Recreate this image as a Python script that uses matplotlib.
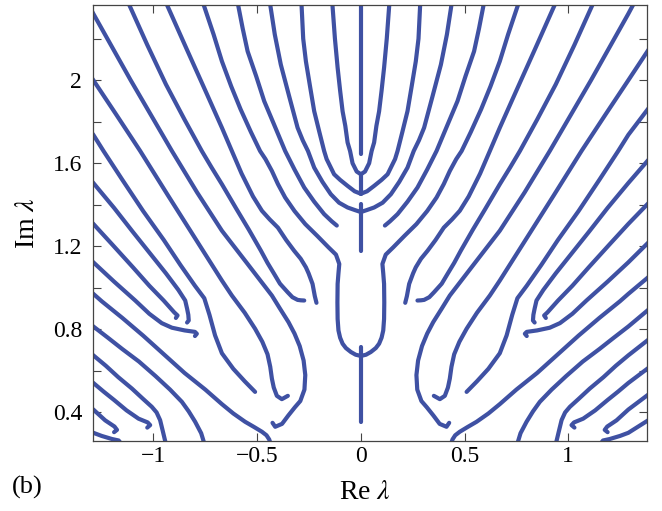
import matplotlib
matplotlib.use("Agg")
import matplotlib.pyplot as plt
from matplotlib.ticker import FixedLocator, FixedFormatter

# -------------------------------
# spectrum branches, Re λ >= 0 half (the other half is the mirror image)
# -------------------------------
# pieces lying on the imaginary axis
axis_lo = [0.355, 1.179, 1.451, 1.643]
axis_hi = [0.715, 1.405, 1.547, 2.40]

u1_x = [0.0, 0.02, 0.04, 0.052, 0.064, 0.075, 0.088, 0.10, 0.112, 0.125, 0.137, 0.140]
u1_y = [1.547, 1.56, 1.60, 1.659, 1.70, 1.78, 1.85, 1.95, 2.06, 2.20, 2.363, 2.40]

u2_x = [0.0, 0.03, 0.064, 0.10, 0.129, 0.165, 0.177, 0.20, 0.225, 0.245, 0.265, 0.278, 0.286, 0.29]
u2_y = [1.453, 1.465, 1.491, 1.52, 1.547, 1.62, 1.659, 1.75, 1.851, 1.97, 2.091, 2.20, 2.363, 2.40]

u3_x = [0.0, 0.03, 0.064, 0.105, 0.145, 0.185, 0.225, 0.255, 0.28, 0.305, 0.345, 0.386, 0.415, 0.437, 0.445]
u3_y = [1.365, 1.375, 1.387, 1.41, 1.451, 1.51, 1.579, 1.659, 1.71, 1.771, 1.92, 2.075, 2.22, 2.363, 2.40]

e1_x = [0.116, 0.14, 0.177, 0.225, 0.273, 0.32, 0.365, 0.42, 0.466, 0.505, 0.546, 0.57, 0.592, 0.60]
e1_y = [1.30, 1.32, 1.355, 1.415, 1.483, 1.57, 1.659, 1.79, 1.899, 2.02, 2.139, 2.25, 2.363, 2.40]

big_x = [0.0, 0.025, 0.048, 0.072, 0.088, 0.100, 0.108, 0.112, 0.113, 0.112, 0.108, 0.104, 0.12,
         0.156, 0.21, 0.268, 0.32, 0.365, 0.40, 0.429, 0.46, 0.486, 0.53, 0.58, 0.625, 0.670,
         0.71, 0.758, 0.77]
big_y = [0.672, 0.678, 0.691, 0.71, 0.731, 0.76, 0.795, 0.85, 0.93, 1.019, 1.07, 1.115, 1.16,
         1.195, 1.25, 1.307, 1.37, 1.435, 1.50, 1.563, 1.62, 1.659, 1.75, 1.86, 1.97, 2.091,
         2.22, 2.363, 2.40]

e2_x = [0.214, 0.222, 0.233, 0.252, 0.265, 0.29, 0.322, 0.36, 0.40, 0.44, 0.477, 0.52, 0.575,
        0.622, 0.670, 0.75, 0.84, 0.935, 0.95]
e2_y = [0.928, 0.96, 1.019, 1.07, 1.099, 1.14, 1.179, 1.23, 1.29, 1.33, 1.371, 1.44, 1.55,
        1.659, 1.771, 1.95, 2.15, 2.363, 2.40]

e3_x = [0.273, 0.29, 0.305, 0.33, 0.353, 0.39, 0.418, 0.45, 0.482, 0.54, 0.60, 0.670, 0.72,
        0.767, 0.85, 0.94, 1.03, 1.117, 1.13]
e3_y = [0.939, 0.94, 0.942, 0.955, 0.979, 1.02, 1.067, 1.12, 1.179, 1.28, 1.38, 1.499, 1.58,
        1.659, 1.81, 1.98, 2.17, 2.363, 2.40]

e5_x = [0.426, 0.413, 0.380, 0.350, 0.318, 0.292, 0.272, 0.268, 0.276, 0.295, 0.32, 0.349,
        0.39, 0.429, 0.55, 0.670, 0.79, 0.911, 1.11, 1.29, 1.313, 1.33]
e5_y = [0.350, 0.331, 0.345, 0.385, 0.425, 0.455, 0.51, 0.58, 0.65, 0.72, 0.78, 0.835,
        0.90, 0.963, 1.12, 1.275, 1.46, 1.659, 2.0, 2.32, 2.363, 2.40]

e4_x = [0.352, 0.381, 0.405, 0.42, 0.429, 0.437, 0.45, 0.475, 0.510, 0.56, 0.622, 0.670,
        0.80, 0.93, 1.064, 1.18, 1.29, 1.382, 1.43]
e4_y = [0.48, 0.464, 0.48, 0.52, 0.563, 0.62, 0.68, 0.74, 0.803, 0.88, 0.963, 1.035,
        1.24, 1.445, 1.659, 1.835, 2.0, 2.139, 2.21]

e6_x = [0.510, 0.56, 0.615, 0.670, 0.703, 0.73, 0.755, 0.80, 0.87, 0.95, 1.05, 1.15,
        1.241, 1.29, 1.382, 1.43]
e6_y = [0.499, 0.55, 0.61, 0.685, 0.771, 0.87, 0.95, 1.01, 1.11, 1.23, 1.37, 1.52,
        1.659, 1.737, 1.858, 1.92]

e7_x = [0.838, 0.830, 0.832, 0.838, 0.847, 0.88, 0.94, 1.02, 1.10, 1.19, 1.29, 1.382, 1.43]
e7_y = [0.833, 0.843, 0.87, 0.90, 0.939, 0.99, 1.07, 1.17, 1.27, 1.385, 1.505, 1.611, 1.665]

e8_x = [0.892, 0.884, 0.90, 0.951, 1.02, 1.10, 1.20, 1.29, 1.382, 1.43]
e8_y = [0.855, 0.867, 0.882, 0.939, 1.01, 1.10, 1.21, 1.308, 1.403, 1.45]

e9_x = [0.800, 0.791, 0.80, 0.85, 0.911, 0.96, 1.02, 1.088, 1.19, 1.29, 1.382, 1.43]
e9_y = [0.768, 0.779, 0.788, 0.795, 0.808, 0.83, 0.875, 0.939, 1.03, 1.123, 1.214, 1.26]

b1_x = [0.437, 0.442, 0.455, 0.477, 0.515, 0.558, 0.615, 0.670, 0.75, 0.85, 0.95, 1.05,
        1.15, 1.249, 1.29, 1.382, 1.43]
b1_y = [0.255, 0.27, 0.29, 0.307, 0.33, 0.355, 0.395, 0.44, 0.51, 0.59, 0.68, 0.77,
        0.855, 0.935, 0.971, 1.048, 1.09]

b2_x = [0.755, 0.759, 0.77, 0.799, 0.83, 0.863, 0.92, 0.99, 1.07, 1.15, 1.22, 1.29, 1.382, 1.43]
b2_y = [0.25, 0.264, 0.30, 0.355, 0.405, 0.451, 0.51, 0.575, 0.645, 0.705, 0.76, 0.814, 0.891, 0.93]

b3_x = [0.940, 0.944, 0.955, 0.968, 0.985, 1.008, 1.05, 1.104, 1.17, 1.23, 1.29, 1.382, 1.43]
b3_y = [0.25, 0.264, 0.31, 0.363, 0.40, 0.427, 0.465, 0.515, 0.57, 0.625, 0.675, 0.747, 0.78]

e10_x = [1.03, 1.016, 1.028, 1.072, 1.13, 1.19, 1.24, 1.29, 1.382, 1.43]
e10_y = [0.327, 0.339, 0.352, 0.37, 0.41, 0.46, 0.50, 0.542, 0.611, 0.645]

e11_x = [1.19, 1.176, 1.188, 1.233, 1.29, 1.382, 1.43]
e11_y = [0.305, 0.316, 0.332, 0.362, 0.414, 0.483, 0.515]

b4_x = [1.16, 1.168, 1.20, 1.25, 1.29, 1.382, 1.43]
b4_y = [0.255, 0.265, 0.272, 0.287, 0.302, 0.360, 0.39]

branches = [
    (u1_x, u1_y), (u2_x, u2_y), (u3_x, u3_y), (e1_x, e1_y), (big_x, big_y),
    (e2_x, e2_y), (e3_x, e3_y), (e5_x, e5_y), (e4_x, e4_y), (e6_x, e6_y),
    (e7_x, e7_y), (e8_x, e8_y), (e9_x, e9_y), (b1_x, b1_y), (b2_x, b2_y),
    (b3_x, b3_y), (e10_x, e10_y), (e11_x, e11_y), (b4_x, b4_y),
]

# axis ticks
xticks = [-1, -0.5, 0, 0.5, 1]
xtick_labels = ["\u22121", "\u22120.5", "0", "0.5", "1"]
yticks = [0.4, 0.6, 0.8, 1.0, 1.2, 1.4, 1.6, 1.8, 2.0, 2.2]
ytick_labels = ["0.4", "", "0.8", "", "1.2", "", "1.6", "", "2", ""]

# -------------------------------
# plot
# -------------------------------
plt.rcParams["font.family"] = ["Liberation Serif", "DejaVu Serif"]
plt.rcParams["mathtext.fontset"] = "stix"

LINE = "#3f51a3"
style = dict(color=LINE, lw=3.0, solid_capstyle="round", solid_joinstyle="round")

fig = plt.figure(figsize=(6.62, 5.11), dpi=100)
ax = fig.add_axes([0.141, 0.1376, 0.837, 0.853])

# the spectrum is symmetric about Re λ = 0: draw each branch on both sides
for bx, by in branches:
    ax.plot(bx, by, **style)
    ax.plot([-v for v in bx], by, **style)

for lo, hi in zip(axis_lo, axis_hi):
    ax.plot([0, 0], [lo, hi], **style)

ax.set_xlim(-1.29, 1.382)
ax.set_ylim(0.264, 2.363)

ax.xaxis.set_major_locator(FixedLocator(xticks))
ax.xaxis.set_major_formatter(FixedFormatter(xtick_labels))
ax.yaxis.set_major_locator(FixedLocator(yticks))
ax.yaxis.set_major_formatter(FixedFormatter(ytick_labels))
ax.tick_params(direction="in", top=True, right=True, length=6, width=0.8,
               color="#444444", labelsize=17)
ax.tick_params(axis="x", pad=4)
ax.tick_params(axis="y", pad=8)
for sp in ax.spines.values():
    sp.set_color("#444444")
    sp.set_linewidth(0.9)

ax.set_xlabel(r"Re $\lambda$", fontsize=20)
ax.set_ylabel(r"Im $\lambda$", fontsize=20)
ax.xaxis.set_label_coords(0.49, -0.09)
ax.yaxis.set_label_coords(-0.097, 0.5)
fig.text(0.018, 0.035, "(b)", fontsize=19)

plt.savefig("out.png", dpi=100)
